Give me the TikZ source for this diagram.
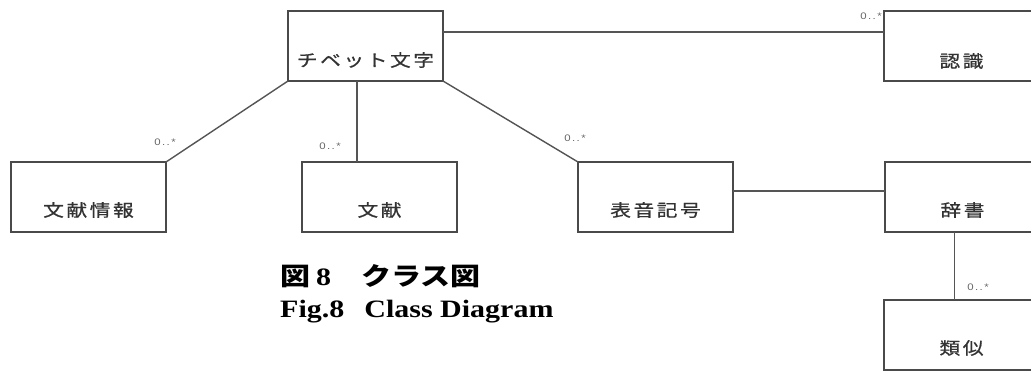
\documentclass[tikz,border=0pt]{standalone}
\usepackage{fontspec}
\setmainfont{Liberation Serif}
\newfontfamily\jpbox[FakeStretch=1.22,LetterSpace=15,FakeBold=0.7]{Noto Sans CJK JP}
\newfontfamily\jpcap[FakeStretch=1.2]{Noto Sans CJK JP}
\newfontfamily\capser[FakeStretch=1.2]{Liberation Serif}
\newfontfamily\multfont[FakeStretch=1.2,LetterSpace=15]{Liberation Sans}
\usetikzlibrary{calc}
\definecolor{boxc}{HTML}{4A4A4A}
\definecolor{linec}{HTML}{555555}
\definecolor{txtc}{HTML}{333333}
\definecolor{multc}{HTML}{666666}
\tikzset{
  cls/.style={draw=boxc, line width=1.9pt, minimum width=155pt, minimum height=70pt,
    inner sep=0pt, outer sep=0pt, anchor=north west},
  ctext/.style={font=\jpbox\fontsize{17}{17}\selectfont, text=txtc, inner sep=0pt},
  conn/.style={draw=linec, line width=1.4pt},
  mult/.style={font=\multfont\fontsize{9.5}{9.5}\selectfont, text=multc, inner sep=0pt}
}
\begin{document}
\begin{tikzpicture}[x=1pt,y=-1pt]
\useasboundingbox (0,0) rectangle (1031,370);
\clip (0,0) rectangle (1031,370);
% boxes
\node[cls] (tib) at (288,11) {};
\node[cls] (nin) at (884,11) {};
\node[cls] (bkj) at (11,162) {};
\node[cls] (bk)  at (302,162) {};
\node[cls] (hyo) at (578,162) {};
\node[cls] (jis) at (885,162) {};
\node[cls] (rui) at (884,300) {};
% box texts
\node[ctext] (ttib) at ($(tib.center)+(0,14)$) {チベット文字\hspace{-0.15em}};
\node[ctext] (tnin) at ($(nin.center)+(0,15)$) {認識\hspace{-0.15em}};
\node[ctext] (tbkj) at ($(bkj.center)+(0,13)$) {文献情報\hspace{-0.15em}};
\node[ctext] (tbk)  at ($(bk.center)+(0,13)$) {文献\hspace{-0.15em}};
\node[ctext] (thyo) at ($(hyo.center)+(0,13)$) {表音記号\hspace{-0.15em}};
\node[ctext] (tjis) at ($(jis.center)+(0,13)$) {辞書\hspace{-0.15em}};
\node[ctext] (trui) at ($(rui.center)+(0,13)$) {類似\hspace{-0.15em}};
% connectors
\coordinate (tibE) at ($(tib.north east)!0.3!(tib.south east)$);
\draw[conn] (tibE) -- (tibE -| nin.west);
\draw[conn] (tib.south west) -- (bkj.north east);
\coordinate (tibS) at ($(tib.south west)!0.445!(tib.south east)$);
\draw[conn] (tibS) -- (tibS |- bk.north);
\draw[conn] (tib.south east) -- (hyo.north west);
\coordinate (hyoE) at ($(hyo.north east)!0.414!(hyo.south east)$);
\draw[conn] (hyoE) -- (hyoE -| jis.west);
\coordinate (jisS) at ($(jis.south west)!0.45!(jis.south east)$);
\draw[conn] (jisS) -- (jisS |- rui.north);
% multiplicities
\node[mult] (m1) at (871,16) {0..*};
\node[mult] (m2) at (165,142) {0..*};
\node[mult] (m3) at (330,146) {0..*};
\node[mult] (m4) at (575,138) {0..*};
\node[mult] (m5) at (978,287) {0..*};
% caption
\node[anchor=base west, inner sep=0pt] (cap1) at (280,285)
  {\fontsize{25}{25}\selectfont\jpcap\bfseries 図\hspace{6pt}{\capser\bfseries 8}\hspace{30pt}クラス図};
\node[anchor=base west, inner sep=0pt] (cap2) at (280,317)
  {\fontsize{25}{25}\selectfont\capser\bfseries Fig.8\hspace{20pt}Class Diagram};
\end{tikzpicture}
\end{document}
